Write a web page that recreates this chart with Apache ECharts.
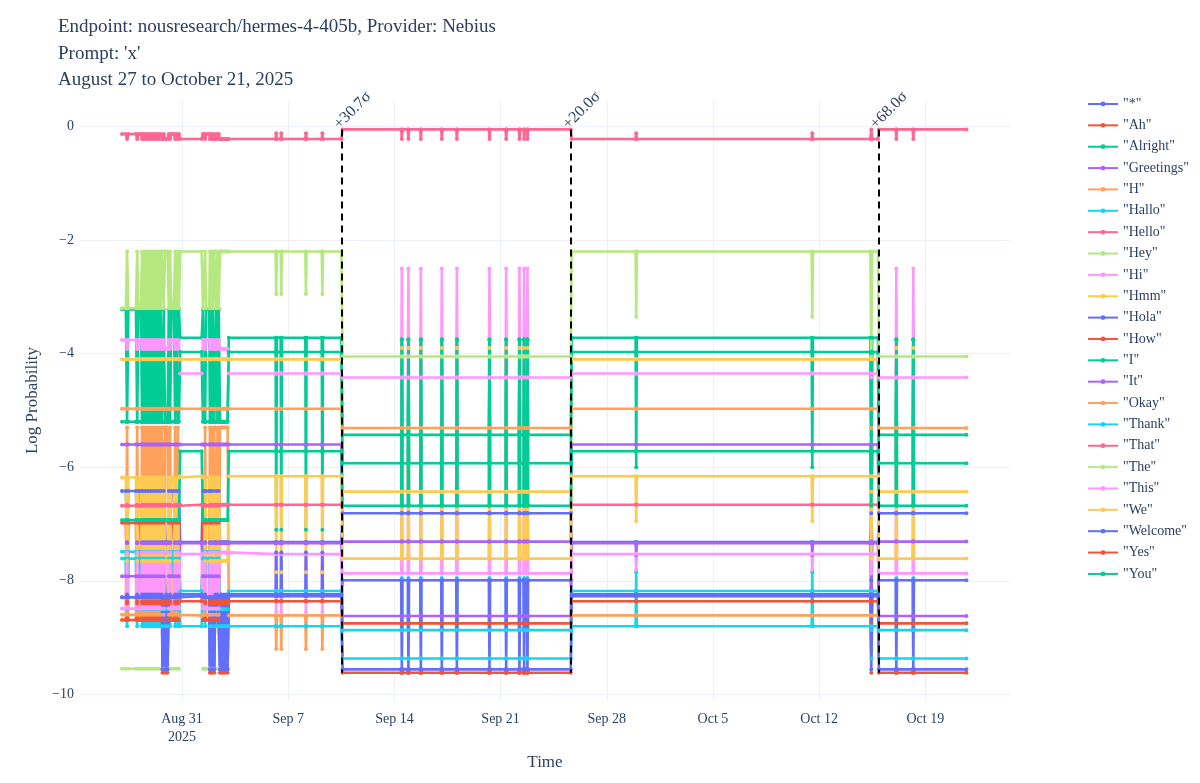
<!DOCTYPE html>
<html>
<head>
<meta charset="utf-8">
<title>hermes-4-405b log probabilities</title>
<script src="https://cdn.jsdelivr.net/npm/echarts@6/dist/echarts.min.js"></script>
<style>
  html, body { margin: 0; padding: 0; background: #fff; }
  #main { width: 1200px; height: 783px; }
</style>
</head>
<body>
<div id="main"></div>
<script>
// first-token candidates, in legend order
const tokens = ['"*"', '"Ah"', '"Alright"', '"Greetings"', '"H"', '"Hallo"', '"Hello"', '"Hey"', '"Hi"', '"Hmm"', '"Hola"', '"How"',
  '"I"', '"It"', '"Okay"', '"Thank"', '"That"', '"The"', '"This"', '"We"', '"Welcome"', '"Yes"', '"You"'];

// log probability of each token (same order as tokens) in each observed state, null = not returned
//                 *      Ah     Alright Greet  H      Hallo  Hello  Hey    Hi     Hmm    Hola   How    I      It     Okay   Thank  That   The    This   We     Welc   Yes    You
const earlyBase = [-6.42, -6.98, -3.22, -5.6,  -4.97, -7.49, -0.13, -3.2,  -3.76, -4.1,  -8.29, -8.69, -5.2,  -7.92, -8.6,  -7.61, -6.68, -9.55, -8.49, -6.18, -8.29, null,  -6.93];
const earlyAlt  = [-7.32, -8.36, -5.2,  -5.6,  -4.97, -8.8,  -0.22, -2.2,  -3.92, -4.1,  -8.24, -8.4,  -5.2,  -7.34, -5.3,  -8.5,  -6.66, null,  -7.5,  -7.65, -8.27, null,  -6.93];
const earlyLow  = [-7.32, -8.36, -5.2,  -5.6,  -4.97, -8.8,  -0.22, -2.2,  -3.92, -4.1,  -9.56, -8.4,  -5.2,  -7.34, -5.3,  -8.5,  -6.66, null,  -7.5,  -7.65, -9.56, -9.62, -6.93];
const lowState  = [-7.32, -8.36, -3.72, -5.6,  -4.97, -8.18, -0.22, -2.2,  -4.35, -4.1,  -8.24, null,  -3.97, -7.34, -8.61, -8.8,  -6.66, null,  -7.53, -6.16, -8.27, null,  -5.72];
const lowSpike1 = [-7.32, -8.36, -7.1,  -5.6,  -4.97, -8.18, -0.12, -2.95, -4.35, -4.1,  -8.24, null,  -3.97, -7.34, -9.2,  -8.8,  -6.66, null,  -8.55, -7.85, -7.5,  null,  -5.72];
const lowSpike3 = [-7.32, -8.36, -6.0,  -5.6,  -4.97, -8.18, -0.12, -3.35, -4.35, -4.1,  -8.24, null,  -3.97, -7.55, -8.61, -7.85, -6.66, null,  -7.8,  -6.95, -8.27, null,  -5.72];
const highState = [-6.81, -8.75, -5.43, -7.31, -5.31, -8.87, -0.05, -4.05, -4.42, -6.43, -7.99, null,  -5.93, -8.62, null,  -9.37, null,  null,  -7.87, -7.61, -9.56, -9.62, -6.68];
const highSpike = [-6.81, -8.75, -3.75, -7.31, -5.31, -7.95, -0.22, -4.05, -2.5,  -3.9,  -9.56, null,  -3.75, -8.62, null,  -9.37, null,  null,  -4.42, -6.43, -9.56, -9.62, -3.75];

const states = { E: earlyBase, X: earlyAlt, Y: earlyLow, A: lowState, SB: lowSpike1, SA: lowSpike3, C: highState, SC: highSpike };

// sample times (2025, MM-DD HH:mm) and the state seen at each
const timeline = [
  ['08-27 01:00', 'E'], ['08-27 07:00', 'E'], ['08-27 09:00', 'X'], ['08-27 11:00', 'E'],
  ['08-27 23:00', 'E'], ['08-28 01:00', 'X'], ['08-28 03:00', 'E'], ['08-28 07:00', 'E'], ['08-28 08:40', 'X'],
  ['08-28 10:00', 'E'], ['08-28 12:00', 'X'], ['08-28 14:00', 'E'], ['08-28 16:00', 'X'], ['08-28 18:00', 'E'],
  ['08-28 20:00', 'X'], ['08-28 22:00', 'E'], ['08-29 00:00', 'X'], ['08-29 02:00', 'E'], ['08-29 04:00', 'X'],
  ['08-29 06:00', 'E'], ['08-29 08:00', 'X'], ['08-29 10:00', 'E'], ['08-29 12:00', 'X'], ['08-29 14:00', 'E'],
  ['08-29 16:00', 'X'], ['08-29 17:00', 'Y'], ['08-29 19:00', 'E'], ['08-29 21:00', 'Y'], ['08-29 23:00', 'X'],
  ['08-30 01:00', 'Y'], ['08-30 03:00', 'E'], ['08-30 05:00', 'X'], ['08-30 07:00', 'E'], ['08-30 11:00', 'E'],
  ['08-30 13:00', 'X'], ['08-30 15:00', 'E'], ['08-30 17:30', 'X'], ['08-30 19:00', 'E'],
  ['08-30 21:00', 'A'], ['09-01 07:00', 'A'],
  ['09-01 09:00', 'E'], ['09-01 11:00', 'E'], ['09-01 12:30', 'X'], ['09-01 14:00', 'E'], ['09-01 19:00', 'E'],
  ['09-01 20:00', 'Y'], ['09-01 21:00', 'E'], ['09-01 23:00', 'Y'], ['09-02 01:00', 'E'], ['09-02 03:00', 'Y'],
  ['09-02 04:30', 'X'], ['09-02 06:00', 'E'], ['09-02 08:00', 'X'], ['09-02 10:00', 'E'], ['09-02 12:00', 'Y'],
  ['09-02 14:00', 'X'], ['09-02 16:00', 'Y'], ['09-02 18:00', 'X'], ['09-02 20:00', 'Y'], ['09-02 22:00', 'X'],
  ['09-03 00:00', 'Y'], ['09-03 02:00', 'A'],
  ['09-06 04:00', 'A'], ['09-06 05:00', 'SB'], ['09-06 06:00', 'A'],
  ['09-06 12:00', 'A'], ['09-06 13:00', 'SB'], ['09-06 14:00', 'A'],
  ['09-08 03:00', 'A'], ['09-08 04:00', 'SB'], ['09-08 05:00', 'A'],
  ['09-09 05:00', 'A'], ['09-09 06:00', 'SB'], ['09-09 07:00', 'A'],
  ['09-10 12:00', 'A'], ['09-10 14:00', 'C'],
  ['09-14 10:45', 'C'], ['09-14 11:45', 'SC'], ['09-14 12:45', 'C'],
  ['09-14 21:10', 'C'], ['09-14 22:10', 'SC'], ['09-14 23:10', 'C'],
  ['09-15 16:50', 'C'], ['09-15 17:50', 'SC'], ['09-15 18:50', 'C'],
  ['09-17 02:00', 'C'], ['09-17 03:00', 'SC'], ['09-17 04:00', 'C'],
  ['09-18 01:50', 'C'], ['09-18 02:50', 'SC'], ['09-18 03:50', 'C'],
  ['09-20 05:25', 'C'], ['09-20 06:25', 'SC'], ['09-20 07:25', 'C'],
  ['09-21 07:50', 'C'], ['09-21 08:50', 'SC'], ['09-21 09:50', 'C'],
  ['09-22 04:50', 'C'], ['09-22 05:50', 'SC'], ['09-22 06:50', 'C'],
  ['09-22 12:15', 'C'], ['09-22 13:15', 'SC'], ['09-22 14:15', 'C'],
  ['09-22 17:30', 'C'], ['09-22 18:30', 'SC'], ['09-22 19:30', 'C'],
  ['09-25 15:00', 'C'], ['09-25 16:30', 'A'],
  ['09-29 21:35', 'A'], ['09-29 22:35', 'SA'], ['09-29 23:35', 'A'],
  ['10-11 12:10', 'A'], ['10-11 13:10', 'SA'], ['10-11 14:10', 'A'],
  ['10-15 09:00', 'A'], ['10-15 10:30', 'C'], ['10-15 12:00', 'A'], ['10-15 21:00', 'A'], ['10-15 22:30', 'C'],
  ['10-17 01:10', 'C'], ['10-17 02:10', 'SC'], ['10-17 03:10', 'C'],
  ['10-18 04:00', 'C'], ['10-18 05:00', 'SC'], ['10-18 06:00', 'C'],
  ['10-21 17:00', 'C']
];

// detected change points and their size
const changeTimes = ['09-10 13:10', '09-25 15:40', '10-15 21:40'];
const changeLabels = ['+30.7σ', '+20.0σ', '+68.0σ'];

const xTicks = ['08-31 00:00', '09-07 00:00', '09-14 00:00', '09-21 00:00', '09-28 00:00', '10-05 00:00', '10-12 00:00', '10-19 00:00'];
const xTickLabels = ['Aug 31\n2025', 'Sep 7', 'Sep 14', 'Sep 21', 'Sep 28', 'Oct 5', 'Oct 12', 'Oct 19'];
const yTicks = [0, -2, -4, -6, -8, -10];

const palette = ['#636efa', '#EF553B', '#00cc96', '#ab63fa', '#FFA15A', '#19d3f3', '#FF6692', '#B6E880', '#FF97FF', '#FECB52'];
const ink = '#2a3f5f';
const serif = '"Liberation Serif", "DejaVu Serif", serif';

function toTime(s) {
  const [md, hm] = s.split(' ');
  const [m, d] = md.split('-').map(Number);
  const [h, mi] = hm.split(':').map(Number);
  return Date.UTC(2025, m - 1, d, h, mi);
}

const xTickTimes = xTicks.map(toTime);
const allValues = Object.values(states).flat().filter(v => v !== null);
const yTop = Math.max(...allValues);
const yBottom = Math.min(...allValues);

const series = tokens.map((tok, i) => ({
  name: tok,
  type: 'line',
  data: timeline.map(([t, s]) => [toTime(t), states[s][i]]),
  color: palette[i % palette.length],
  symbol: 'circle',
  symbolSize: 4,
  showSymbol: true,
  connectNulls: false,
  lineStyle: { width: 2.6 },
  emphasis: { disabled: true },
  animation: false
}));

series.push({
  name: 'changes',
  type: 'line',
  data: [],
  z: 5,
  markLine: {
    silent: true,
    symbol: 'none',
    animation: false,
    label: { show: false },
    lineStyle: { color: '#000', width: 2, type: [7, 5] },
    data: changeTimes.map(t => [{ coord: [toTime(t), yTop] }, { coord: [toTime(t), yBottom] }])
  },
  markPoint: {
    silent: true,
    symbol: 'circle',
    symbolSize: 0,
    animation: false,
    label: {
      show: true,
      position: 'inside',
      formatter: p => p.name,
      rotate: 45,
      align: 'left',
      verticalAlign: 'bottom',
      offset: [-2, 2],
      fontFamily: serif,
      fontSize: 16,
      color: ink
    },
    data: changeTimes.map((t, k) => ({ name: changeLabels[k], coord: [toTime(t), yTop] }))
  }
});

const chart = echarts.init(document.getElementById('main'), null, { renderer: 'canvas' });
chart.setOption({
  animation: false,
  backgroundColor: '#fff',
  title: {
    text: "Endpoint: nousresearch/hermes-4-405b, Provider: Nebius\nPrompt: 'x'\nAugust 27 to October 21, 2025",
    left: 53,
    top: 9,
    textStyle: { fontFamily: serif, fontSize: 19, fontWeight: 'normal', color: ink, lineHeight: 26.5 }
  },
  legend: {
    data: tokens,
    orient: 'vertical',
    left: 1082,
    top: 92,
    itemWidth: 30,
    itemHeight: 6,
    itemGap: 7.36,
    textStyle: { fontFamily: serif, fontSize: 14, color: ink }
  },
  grid: { left: 80, right: 190, top: 101, bottom: 83, containLabel: false },
  xAxis: {
    type: 'value',
    min: toTime('08-24 06:30'),
    max: toTime('10-24 14:00'),
    name: 'Time',
    nameLocation: 'middle',
    nameGap: 54,
    nameTextStyle: { fontFamily: serif, fontSize: 17, color: ink },
    axisLine: { show: false },
    axisTick: { show: false, customValues: xTickTimes },
    axisLabel: {
      customValues: xTickTimes,
      formatter: v => xTickLabels[xTickTimes.indexOf(v)] || '',
      fontFamily: serif,
      fontSize: 14,
      color: ink,
      margin: 10,
      lineHeight: 18
    },
    splitLine: { show: true, lineStyle: { color: '#ebf0f8', width: 1 } }
  },
  yAxis: {
    type: 'value',
    min: -10.1,
    max: 0.45,
    name: 'Log Probability',
    nameLocation: 'middle',
    nameGap: 38,
    nameTextStyle: { fontFamily: serif, fontSize: 17, color: ink },
    axisLine: { show: false },
    axisTick: { show: false, customValues: yTicks },
    axisLabel: {
      customValues: yTicks,
      formatter: v => String(v).replace('-', '\u2212'),
      fontFamily: serif,
      fontSize: 14,
      color: ink,
      margin: 6
    },
    splitLine: { show: true, lineStyle: { color: '#ebf0f8', width: 1 } }
  },
  series: series
});
</script>
</body>
</html>
